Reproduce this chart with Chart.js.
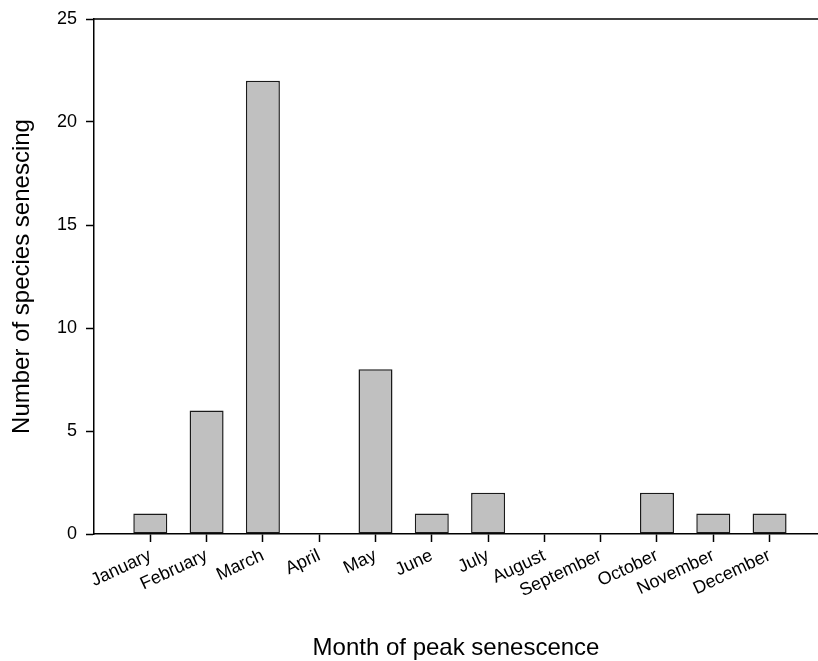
<!DOCTYPE html>
<html>
<head>
<meta charset="utf-8">
<script src="https://cdn.jsdelivr.net/npm/chart.js@4/dist/chart.umd.min.js"></script>
<style>
  html, body { margin: 0; padding: 0; background: #ffffff; }
  #wrap { width: 818px; height: 661px; }
</style>
</head>
<body>
<div id="wrap"><canvas id="chart" width="818" height="661"></canvas></div>
<script>
// Months and the number of species whose senescence peaks in each
const months = ['January', 'February', 'March', 'April', 'May', 'June',
                'July', 'August', 'September', 'October', 'November', 'December'];
const speciesCounts = [1, 6, 22, 0, 8, 1, 2, 0, 0, 2, 1, 1];
const yTicks = [0, 5, 10, 15, 20, 25];

const FONT = "'Liberation Sans', Arial, Helvetica, sans-serif";

// Bars sit on a numeric axis at positions 1..12, one per month
const points = months.map((m, i) => ({ x: i + 1, y: speciesCounts[i] }));

// Closes the frame along the top edge of the plot
const topFrame = {
  id: 'topFrame',
  afterDraw(chart) {
    const { ctx, chartArea } = chart;
    ctx.save();
    ctx.strokeStyle = '#000000';
    ctx.lineWidth = 1.5;
    ctx.beginPath();
    ctx.moveTo(chartArea.left, chartArea.top);
    ctx.lineTo(chartArea.right, chartArea.top);
    ctx.stroke();
    ctx.restore();
  }
};

new Chart(document.getElementById('chart'), {
  type: 'bar',
  data: {
    datasets: [{
      data: points,
      backgroundColor: '#c0c0c0',
      borderColor: '#1a1a1a',
      borderWidth: 1.5,
      borderSkipped: false,
      categoryPercentage: 1,
      barPercentage: 0.604
    }]
  },
  options: {
    responsive: false,
    animation: false,
    devicePixelRatio: 1,
    layout: { padding: { top: 19, right: 0, bottom: 0, left: 0 } },
    plugins: {
      legend: { display: false },
      tooltip: { enabled: false }
    },
    scales: {
      x: {
        type: 'linear',
        offset: false,
        min: 0,
        max: 12.86,
        afterBuildTicks(scale) {
          scale.ticks = months.map((m, i) => ({ value: i + 1 }));
        },
        afterFit(scale) {
          scale.height = 127;
          scale.paddingLeft = 0;
          scale.paddingRight = 0;
        },
        ticks: {
          autoSkip: false,
          maxRotation: 25,
          minRotation: 25,
          padding: 3,
          color: '#000000',
          font: { family: FONT, size: 18 },
          callback: (v) => months[v - 1] || ''
        },
        grid: {
          offset: false,
          drawOnChartArea: false,
          drawTicks: true,
          tickLength: 8,
          tickWidth: 1.5,
          tickColor: '#000000'
        },
        border: { display: true, color: '#000000', width: 1.5 },
        title: {
          display: true,
          text: 'Month of peak senescence',
          color: '#000000',
          font: { family: FONT, size: 24, lineHeight: 1 },
          padding: { top: 0, bottom: 0.5 }
        }
      },
      y: {
        min: 0,
        max: 25,
        afterBuildTicks(scale) {
          scale.ticks = yTicks.map(v => ({ value: v }));
        },
        afterFit(scale) {
          scale.width = 94;
          scale.paddingTop = 0;
          scale.paddingBottom = 0;
        },
        ticks: {
          padding: 9,
          color: '#000000',
          font: { family: FONT, size: 18 }
        },
        grid: {
          drawOnChartArea: false,
          drawTicks: true,
          tickLength: 8,
          tickWidth: 1.5,
          tickColor: '#000000'
        },
        border: { display: true, color: '#000000', width: 1.5 },
        title: {
          display: true,
          text: 'Number of species senescing',
          color: '#000000',
          font: { family: FONT, size: 24, lineHeight: 1 },
          padding: { top: 10.5, bottom: 0 }
        }
      }
    }
  },
  plugins: [topFrame]
});
</script>
</body>
</html>
